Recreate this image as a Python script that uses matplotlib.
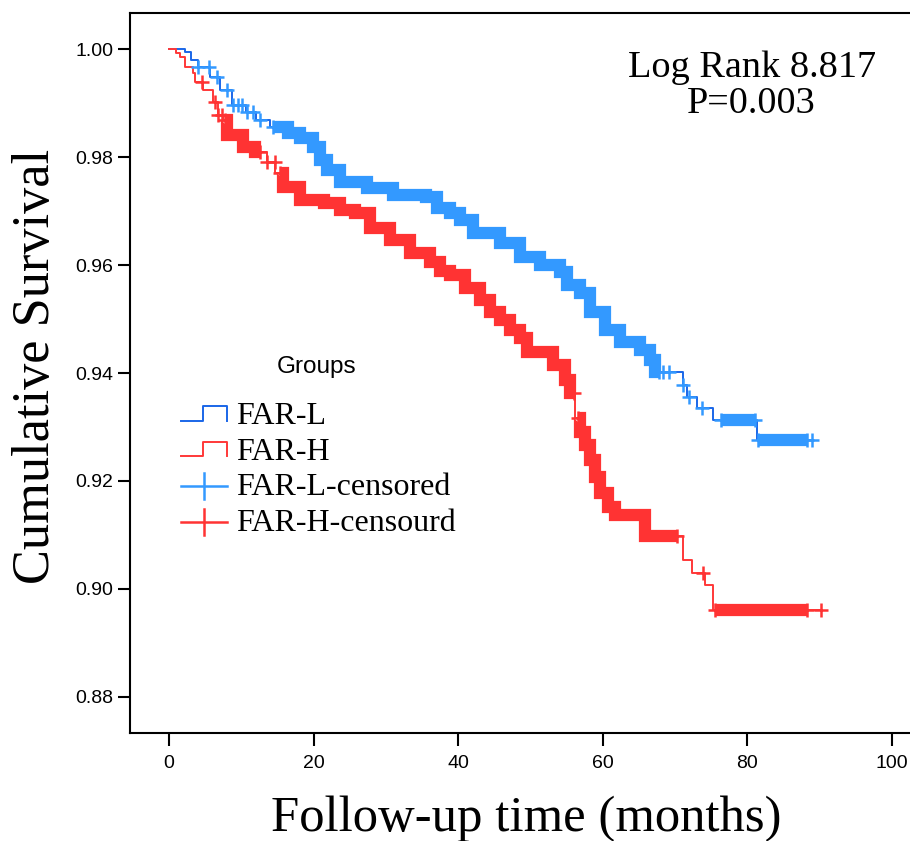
import numpy as np
import matplotlib
matplotlib.use('Agg')
import matplotlib.pyplot as plt
from matplotlib.lines import Line2D
from matplotlib.legend_handler import HandlerBase

C_L_LINE, C_L_CENS = "#1a66e8", "#3399ff"
C_H_LINE, C_H_CENS = "#ff3838", "#ff3333"
SERIF = ['Liberation Serif', 'DejaVu Serif']
SANS = ['Liberation Sans', 'DejaVu Sans']

# FAR-L: event times (months) and survival after each drop
far_l_t = [0, 2.2, 3.1, 4.0, 5.7, 7.1, 8.7, 10.7, 12.1, 14.0, 16.5, 18.1, 19.9,
           20.9, 21.9, 23.7, 27.4, 31.0, 35.5, 37.1, 38.9, 40.2, 42.0, 45.8,
           48.5, 51.3, 54.1, 55.0, 56.8, 58.2, 60.3, 62.4, 65.1, 66.5, 67.2,
           71.1, 71.6, 73.0, 75.2, 81.3]
far_l_s = [1.0, 0.9994, 0.998, 0.9967, 0.9948, 0.9924, 0.9896, 0.9884, 0.9869,
           0.9856, 0.9845, 0.9835, 0.9819, 0.9794, 0.9776, 0.9754, 0.9742,
           0.9729, 0.9726, 0.9706, 0.9696, 0.9683, 0.9659, 0.9641, 0.9615,
           0.960, 0.9587, 0.9563, 0.9548, 0.9513, 0.948, 0.9457, 0.9443,
           0.9424, 0.9402, 0.9378, 0.9356, 0.9335, 0.9313, 0.9275]
far_l_end = 88.9
far_l_cens = [4.0, 5.5, 6.6, 8.0, 8.8, 9.5, 10.1, 10.8, 11.6, 12.6, 14.4,
              67.8, 68.4, 69.2, 71.1, 72.0, 73.7, 76.3, 81.0, 81.5, 88.3, 88.9]
# stretches where censoring marks are packed into a solid band
far_l_dense = [(14.4, 67.8), (76.3, 81.0), (81.5, 88.3)]

# FAR-H
far_h_t = [0, 1.0, 1.5, 2.2, 3.3, 3.6, 4.7, 6.1, 6.8, 7.5, 8.0, 10.2, 11.9,
           13.6, 14.7, 15.8, 18.1, 21.5, 23.7, 25.7, 27.8, 30.6, 33.3, 36.1,
           37.5, 38.9, 40.9, 43.0, 44.4, 45.8, 47.2, 48.5, 49.5, 53.1, 54.8,
           55.5, 56.2, 56.8, 57.5, 58.2, 58.9, 59.6, 60.7, 61.7, 65.8, 71.1,
           72.3, 74.1, 75.2]
far_h_s = [1.0, 0.9993, 0.9986, 0.9967, 0.9956, 0.9939, 0.9924, 0.9902, 0.9878,
           0.9869, 0.9841, 0.9819, 0.9809, 0.9791, 0.977, 0.9744, 0.972,
           0.9714, 0.9702, 0.9696, 0.9669, 0.9646, 0.9622, 0.9606, 0.9589,
           0.9581, 0.9557, 0.9535, 0.9513, 0.9498, 0.948, 0.9465, 0.9439,
           0.9415, 0.9387, 0.9363, 0.9317, 0.9291, 0.9267, 0.9239, 0.9207,
           0.9178, 0.9152, 0.9137, 0.9098, 0.9054, 0.903, 0.9007, 0.8961]
far_h_end = 90.2
far_h_cens = [4.6, 6.4, 6.8, 7.3, 7.8, 12.6, 13.6, 14.6, 15.3, 56.0, 56.6,
              70.3, 73.9, 75.6, 88.3, 90.2]
far_h_dense = [(7.8, 12.6), (15.3, 56.0), (56.6, 70.3), (75.6, 88.3)]


def surv_at(t, s, x):
    return s[np.searchsorted(t, x, side='right') - 1]


def step_path(t, s, a, b):
    xs, ys = [a], [surv_at(t, s, a)]
    for ti, si in zip(t, s):
        if a < ti <= b:
            xs += [ti, ti]
            ys += [ys[-1], si]
    xs.append(b)
    ys.append(surv_at(t, s, b))
    return xs, ys


class StepHandler(HandlerBase):
    def create_artists(self, legend, orig, xd, yd, w, h, fs, trans):
        x0, y0 = -xd, -yd
        xs = [x0, x0 + 0.47 * w, x0 + 0.47 * w, x0 + w, x0 + w]
        ys = [y0 + 0.15 * h, y0 + 0.15 * h, y0 + 0.8 * h, y0 + 0.8 * h, y0 + 0.15 * h]
        return [Line2D(xs, ys, color=orig.get_color(), lw=1.4, transform=trans)]


class CensorHandler(HandlerBase):
    def create_artists(self, legend, orig, xd, yd, w, h, fs, trans):
        x0, y0 = -xd, -yd
        ym = y0 + 0.4 * h
        hl = Line2D([x0, x0 + w], [ym, ym], color=orig.get_color(), lw=1.8,
                    transform=trans)
        vl = Line2D([x0 + 0.5 * w] * 2, [ym - 9.5, ym + 9.5],
                    color=orig.get_color(), lw=1.8, transform=trans)
        return [hl, vl]


fig = plt.figure(figsize=(9.1, 8.41), dpi=100)
ax = fig.add_axes([130 / 910, 1 - 733 / 841, 798 / 910, 720 / 841])

groups = [
    (far_l_t, far_l_s, far_l_end, far_l_cens, far_l_dense, C_L_LINE, C_L_CENS),
    (far_h_t, far_h_s, far_h_end, far_h_cens, far_h_dense, C_H_LINE, C_H_CENS),
]
for t, s, end, cens, dense, c_line, c_cens in groups:
    t = np.array(t)
    s = np.array(s)
    xs, ys = step_path(t, s, 0, end)
    ax.plot(xs, ys, color=c_line, lw=1.4, zorder=2)
    for a, b in dense:
        bx, by = step_path(t, s, a, b)
        ax.plot(bx, by, color=c_cens, lw=8.8, solid_capstyle='butt',
                solid_joinstyle='miter', zorder=3)
    cy = [surv_at(t, s, c) for c in cens]
    ax.plot(cens, cy, '+', color=c_cens, ms=10, mew=1.8, zorder=4)

ax.set_xlim(-5.4, 105)
ax.set_ylim(0.87333, 1.00667)
ax.set_xticks([0, 20, 40, 60, 80, 100])
ax.set_yticks([0.88, 0.90, 0.92, 0.94, 0.96, 0.98, 1.00])
ax.set_yticklabels([f'{v:.2f}' for v in ax.get_yticks()])
ax.tick_params(direction='out', length=9, width=1.5, labelsize=14)
ax.tick_params(axis='x', pad=7)
ax.tick_params(axis='y', pad=3)
for lab in ax.get_xticklabels() + ax.get_yticklabels():
    lab.set_family(SANS)
for sp in ax.spines.values():
    sp.set_linewidth(1.5)

fig.text(526 / 910, 1 - 819 / 841, 'Follow-up time (months)', fontsize=36.5,
         family=SERIF, ha='center', va='center')
fig.text(36 / 910, 1 - 366 / 841, 'Cumulative Survival', fontsize=37.7,
         family=SERIF, rotation=90, ha='center', va='center')
fig.text(752 / 910, 1 - 77 / 841, 'Log Rank 8.817', fontsize=27.5,
         family=SERIF, ha='center', va='baseline')
fig.text(751 / 910, 1 - 113 / 841, 'P=0.003', fontsize=27.5,
         family=SERIF, ha='center', va='baseline')

fig.text(317 / 910, 1 - 367 / 841, 'Groups', fontsize=17.5, family=SANS,
         ha='center', va='center')
hL = Line2D([], [], color=C_L_LINE)
hH = Line2D([], [], color=C_H_LINE)
cL = Line2D([], [], color=C_L_CENS)
cH = Line2D([], [], color=C_H_CENS)
leg = ax.legend([hL, hH, cL, cH],
                ['FAR-L', 'FAR-H', 'FAR-L-censored', 'FAR-H-censourd'],
                handler_map={hL: StepHandler(), hH: StepHandler(),
                             cL: CensorHandler(), cH: CensorHandler()},
                loc='upper left',
                bbox_to_anchor=(181 / 910, 1 - 402 / 841),
                bbox_transform=fig.transFigure, frameon=False,
                borderpad=0, borderaxespad=0, handlelength=1.45,
                handletextpad=0.28, labelspacing=0.19,
                prop={'family': SERIF, 'size': 23})

fig.savefig('out.png', dpi=100)
